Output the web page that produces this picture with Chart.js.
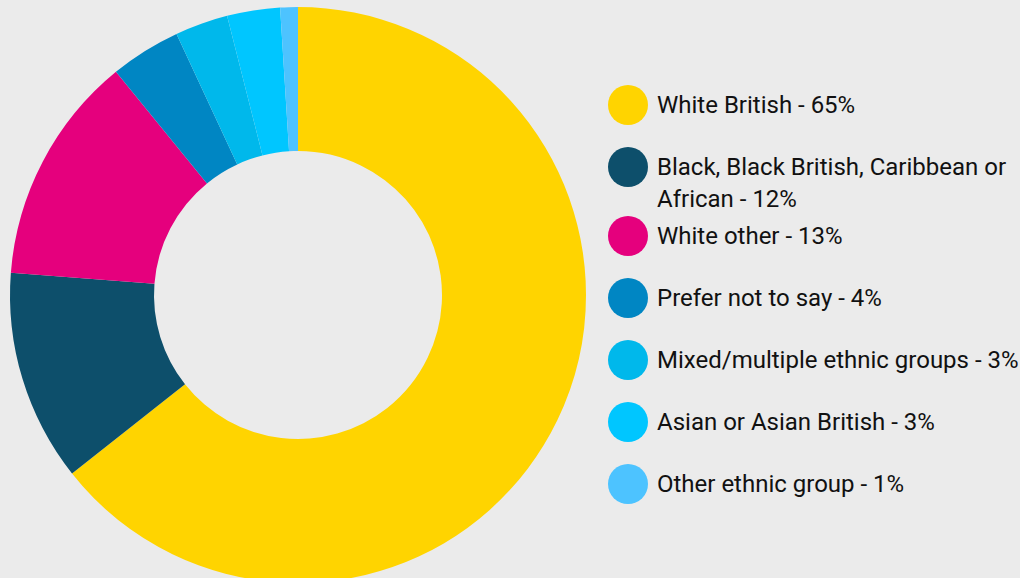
<!DOCTYPE html>
<html>
<head>
<meta charset="utf-8">
<script src="https://cdn.jsdelivr.net/npm/chart.js@4"></script>
<style>
  html, body { margin: 0; padding: 0; background: #ebebeb; overflow: hidden; }
  .wrap { position: relative; width: 1020px; height: 590px; }
  .chart-box { position: absolute; left: 0; top: 0; width: 596px; height: 590px; }
  #legend { position: absolute; left: 608px; top: 85px; width: 420px; margin: 0; padding: 0; list-style: none;
    font-family: Roboto, "Noto Sans", sans-serif; font-size: 24px; color: #111; }
  #legend li { display: flex; align-items: flex-start; height: 40px; margin-bottom: 22px; }
  #legend li.two { margin-bottom: 29px; }
  #legend .dot { flex: 0 0 40px; width: 40px; height: 40px; border-radius: 50%; }
  #legend .txt { margin-left: 9px; margin-top: 4px; line-height: 32px; width: 368px; }
</style>
</head>
<body>
<div class="wrap">
  <div class="chart-box"><canvas id="ethnicityChart"></canvas></div>
  <ul id="legend"></ul>
</div>
<script>
// Ethnicity breakdown
const categories = ['White British', 'Black, Black British, Caribbean or African', 'White other',
  'Prefer not to say', 'Mixed/multiple ethnic groups', 'Asian or Asian British', 'Other ethnic group'];
const percentages = [65, 12, 13, 4, 3, 3, 1];
const colours = ['#ffd400', '#0d4f6b', '#e5007d', '#0086c3', '#00b8eb', '#00c6ff', '#4dc3ff'];

const initChart = () => {
  const canvas = document.getElementById('ethnicityChart');
  const ctx = canvas.getContext('2d');

  new Chart(ctx, {
    type: 'doughnut',
    data: {
      labels: categories,
      datasets: [{
        data: percentages,
        backgroundColor: colours,
        borderWidth: 0
      }]
    },
    options: {
      responsive: true,
      maintainAspectRatio: false,
      animation: false,
      cutout: '50%',
      layout: { padding: 7 },
      plugins: {
        legend: { display: false },
        tooltip: { enabled: false }
      }
    }
  });

  // html legend
  const list = document.getElementById('legend');
  categories.forEach((name, i) => {
    const li = document.createElement('li');
    const dot = document.createElement('span');
    dot.className = 'dot';
    dot.style.background = colours[i];
    const txt = document.createElement('span');
    txt.className = 'txt';
    txt.textContent = name + ' - ' + percentages[i] + '%';
    li.appendChild(dot);
    li.appendChild(txt);
    list.appendChild(li);
    if (txt.offsetHeight > 40) li.className = 'two';
  });
};

document.addEventListener('DOMContentLoaded', initChart);
</script>
</body>
</html>
